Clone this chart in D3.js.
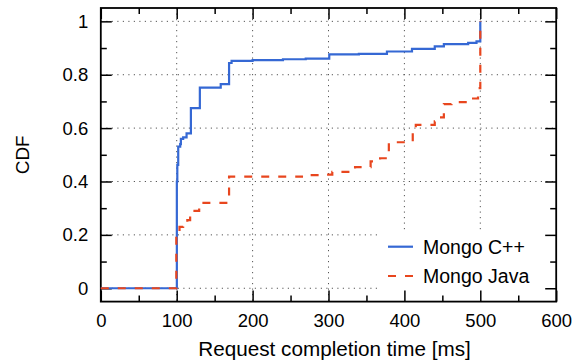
<!DOCTYPE html>
<html><head><meta charset="utf-8">
<script src="https://cdn.jsdelivr.net/npm/d3@7"></script>
<style>body{margin:0;background:#fff} text{font-family:"Liberation Sans",Arial,Helvetica,sans-serif;fill:#000}</style>
</head><body><svg id="c" width="580" height="360"></svg>
<script>
const seriesNames = ["Mongo C++", "Mongo Java"];
const cppX = [0, 100.2, 100.8, 102, 104.6, 105.5, 108.5, 113, 118.7, 130.5, 158, 169, 172.3, 200, 240, 270, 301, 340, 377, 410, 440, 452, 484, 495, 500];
const cppY = [0, 0.40, 0.462, 0.531, 0.54, 0.56, 0.565, 0.58, 0.675, 0.752, 0.765, 0.844, 0.852, 0.855, 0.858, 0.86, 0.876, 0.878, 0.887, 0.897, 0.906, 0.915, 0.919, 0.925, 1.0];
const javaX = [0, 99.5, 101, 103.7, 108.5, 114, 117.7, 129.6, 169, 265, 288, 305, 333, 335, 355.5, 368, 379.5, 411, 415, 440, 442, 452, 462, 484, 497, 500];
const javaY = [0, 0.20, 0.21, 0.23, 0.24, 0.255, 0.29, 0.32, 0.418, 0.424, 0.426, 0.436, 0.445, 0.454, 0.475, 0.487, 0.547, 0.596, 0.612, 0.625, 0.64, 0.69, 0.697, 0.711, 0.75, 1.0];
const xTicks = [0, 100, 200, 300, 400, 500, 600];
const xMinorTicks = [50, 150, 250, 350, 450, 550];
const yTicks = [0, 0.2, 0.4, 0.6, 0.8, 1];
const yTickLabels = ["0", "0.2", "0.4", "0.6", "0.8", "1"];
const yMinorTicks = [0.1, 0.3, 0.5, 0.7, 0.9];
const xTitle = "Request completion time [ms]";
const yTitle = "CDF";
const colors = ["#3568d4", "#e8461e"];

const svg = d3.select("#c");
const L = 100.8, R = 556.2, T = 8, B = 301.6;
const x = d3.scaleLinear().domain([0, 600]).range([L, R]);
const y = d3.scaleLinear().domain([-0.05, 1.05]).range([B, T]);

// grid
const grid = svg.append("g").attr("stroke", "#555").attr("stroke-width", 1).attr("stroke-dasharray", "1.2,4.3");
grid.selectAll(".gx").data(xTicks.slice(1, -1)).join("line")
  .attr("x1", d => x(d)).attr("x2", d => x(d)).attr("y1", T).attr("y2", B);
grid.selectAll(".gy").data(yTicks).join("line")
  .attr("y1", d => y(d)).attr("y2", d => y(d)).attr("x1", L).attr("x2", R);

// legend background
svg.append("rect").attr("x", 378).attr("y", 232).attr("width", R - 378).attr("height", B - 232).attr("fill", "#fff");

// axes
function styleAxis(g) { g.select(".domain").remove(); g.selectAll(".tick line").attr("stroke", "#000").attr("stroke-width", 1.5); }
svg.append("g").attr("transform", `translate(0,${B})`)
  .call(d3.axisBottom(x).tickValues(xTicks).tickSizeInner(-11).tickPadding(12).tickFormat(d3.format("d")))
  .call(styleAxis).call(g => g.selectAll("text").attr("font-size", 18.5).attr("font-family", null));
svg.append("g").attr("transform", `translate(0,${B})`)
  .call(d3.axisBottom(x).tickValues(xMinorTicks).tickSizeInner(-6).tickFormat(""))
  .call(styleAxis);
svg.append("g").attr("transform", `translate(0,${T})`)
  .call(d3.axisTop(x).tickValues(xTicks).tickSizeInner(-11).tickFormat(""))
  .call(styleAxis);
svg.append("g").attr("transform", `translate(0,${T})`)
  .call(d3.axisTop(x).tickValues(xMinorTicks).tickSizeInner(-6).tickFormat(""))
  .call(styleAxis);
svg.append("g").attr("transform", `translate(${L},0)`)
  .call(d3.axisLeft(y).tickValues(yTicks).tickSizeInner(-11).tickPadding(12.5).tickFormat((d, i) => yTickLabels[i]))
  .call(styleAxis).call(g => g.selectAll("text").attr("font-size", 18.5).attr("font-family", null));
svg.append("g").attr("transform", `translate(${L},0)`)
  .call(d3.axisLeft(y).tickValues(yMinorTicks).tickSizeInner(-6).tickFormat(""))
  .call(styleAxis);
svg.append("g").attr("transform", `translate(${R},0)`)
  .call(d3.axisRight(y).tickValues(yTicks).tickSizeInner(-11).tickFormat(""))
  .call(styleAxis);
svg.append("g").attr("transform", `translate(${R},0)`)
  .call(d3.axisRight(y).tickValues(yMinorTicks).tickSizeInner(-6).tickFormat(""))
  .call(styleAxis);

// frame
svg.append("rect").attr("x", L).attr("y", T).attr("width", R - L).attr("height", B - T)
  .attr("fill", "none").attr("stroke", "#000").attr("stroke-width", 1.8);

// data
const line = d3.line().x(d => x(d[0])).y(d => y(d[1])).curve(d3.curveStepAfter);
const cppData = cppX.map((v, i) => [v, cppY[i]]);
const javaData = javaX.map((v, i) => [v, javaY[i]]);
svg.append("path").datum(cppData).attr("d", line).attr("fill", "none").attr("stroke", colors[0]).attr("stroke-width", 2.2);
svg.append("path").datum(javaData).attr("d", line).attr("fill", "none").attr("stroke", colors[1]).attr("stroke-width", 2.2).attr("stroke-dasharray", "8,9");

// legend
const leg = svg.append("g");
[246.7, 276].forEach((ly, i) => {
  leg.append("line").attr("x1", 388).attr("x2", 413).attr("y1", ly).attr("y2", ly)
    .attr("stroke", colors[i]).attr("stroke-width", 2.2).attr("stroke-dasharray", i === 1 ? "8,9" : null);
  leg.append("text").attr("x", 423).attr("y", ly + 6.8).attr("font-size", 19.5).text(seriesNames[i]);
});

// titles
svg.append("text").attr("x", 334.5).attr("y", 356).attr("text-anchor", "middle").attr("font-size", 20.7).text(xTitle);
svg.append("text").attr("transform", `translate(28.5,${(T + B) / 2}) rotate(-90)`).attr("text-anchor", "middle").attr("font-size", 19).text(yTitle);
</script></body></html>
